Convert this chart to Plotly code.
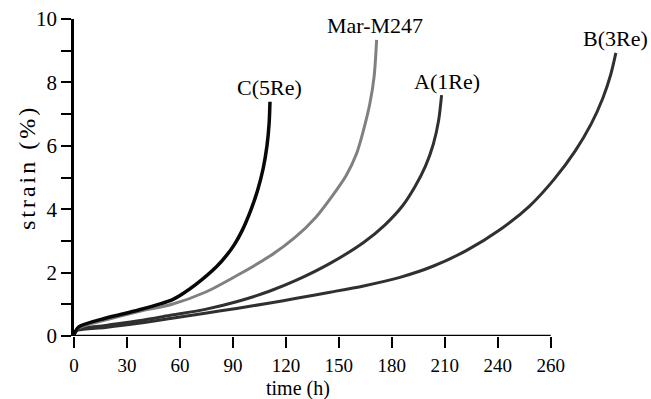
import plotly.graph_objects as go

# Tick labels (the last tick in the source figure is labelled "260")
X_TICK_VALUES = [0, 30, 60, 90, 120, 150, 180, 210, 240, 270]
X_TICK_LABELS = ["0", "30", "60", "90", "120", "150", "180", "210", "240", "260"]
Y_TICK_VALUES = [0, 2, 4, 6, 8, 10]

# Creep curves: time (h) and strain (%)
c5re_time = [0, 2.7, 17.7, 36.6, 55.5, 62, 68.7, 80.8, 86.5, 91, 95, 100, 104, 107.2, 109.3, 110.5, 111]
c5re_strain = [0.05, 0.29, 0.56, 0.82, 1.14, 1.35, 1.61, 2.19, 2.55, 2.9, 3.3, 3.95, 4.6, 5.3, 6.0, 6.7, 7.39]

mar_time = [0, 2.5, 17.7, 36.6, 55.5, 74.3, 92, 111, 125, 137, 146, 154, 160, 164, 167.6, 170, 171.4]
mar_strain = [0.05, 0.25, 0.5, 0.77, 1.0, 1.38, 1.9, 2.52, 3.1, 3.75, 4.4, 5.05, 5.75, 6.5, 7.34, 8.2, 9.34]

a1re_time = [0, 2, 17.7, 36.6, 55.5, 74.3, 92, 111, 126, 145, 164, 176, 186, 193, 199, 203.5, 206.5, 208.2]
a1re_strain = [0.05, 0.2, 0.33, 0.48, 0.66, 0.84, 1.08, 1.42, 1.76, 2.29, 2.95, 3.5, 4.1, 4.7, 5.35, 6.05, 6.8, 7.6]

b3re_time = [0, 2, 17.7, 36.6, 55.5, 74.3, 92, 111, 126, 145, 164, 184.6, 203.3, 222.4, 241.2, 258, 272, 284, 293, 299.5, 304, 306.9]
b3re_strain = [0.05, 0.18, 0.27, 0.40, 0.56, 0.72, 0.87, 1.04, 1.19, 1.38, 1.58, 1.85, 2.2, 2.7, 3.35, 4.1, 4.95, 5.85, 6.7, 7.5, 8.25, 8.93]

series = [
    ("B(3Re)", b3re_time, b3re_strain, "#303030", 3, 0),
    ("A(1Re)", a1re_time, a1re_strain, "#303030", 3, 5),
    ("Mar-M247", mar_time, mar_strain, "#808080", 3, -2),
    ("C(5Re)", c5re_time, c5re_strain, "#080808", 3.5, 0),
]

FONT = "Liberation Serif, Times New Roman, Times, serif"

fig = go.Figure()
for name, t, s, col, w, dx in series:
    fig.add_trace(go.Scatter(x=t, y=s, mode="lines", name=name,
                             line=dict(color=col, width=w, shape="spline", smoothing=0.8),
                             showlegend=False))
    fig.add_annotation(x=t[-1], y=s[-1], text=name, showarrow=False,
                       xanchor="center", yanchor="middle", yshift=14, xshift=dx,
                       font=dict(family=FONT, size=22, color="black"))

# x axis line only up to the last labelled tick
fig.add_shape(type="line", xref="x", yref="y", x0=0, x1=X_TICK_VALUES[-1], y0=0, y1=0,
              line=dict(color="black", width=2.5), layer="above")

fig.add_annotation(text="time (h)", xref="x", yref="paper", x=127, y=-0.165,
                   showarrow=False, xanchor="center", yanchor="middle",
                   font=dict(family=FONT, size=20, color="black"))
fig.add_annotation(text='<span style="letter-spacing:3px">strain (%)</span>',
                   xref="paper", yref="y", x=-0.083, y=5.3,
                   showarrow=False, textangle=-90, xanchor="center", yanchor="middle",
                   font=dict(family=FONT, size=24, color="black"))

fig.update_layout(
    width=651, height=399,
    margin=dict(l=74, r=12, t=19, b=63),
    paper_bgcolor="white", plot_bgcolor="white",
    font=dict(family=FONT, size=20, color="black"),
    xaxis=dict(range=[0, 320], tickvals=X_TICK_VALUES, ticktext=X_TICK_LABELS,
               showgrid=False, zeroline=False, showline=False, automargin=False,
               ticks="outside", ticklen=11, tickwidth=2, tickcolor="black",
               ticklabelstandoff=1,
               tickfont=dict(family=FONT, size=19, color="black")),
    yaxis=dict(range=[0, 10], tickvals=Y_TICK_VALUES, automargin=False,
               showgrid=False, zeroline=False, showline=True, linecolor="black", linewidth=2.5,
               ticks="outside", ticklen=10, tickwidth=2, tickcolor="black",
               tickfont=dict(family=FONT, size=21, color="black"),
               minor=dict(ticks="outside", ticklen=10, tickwidth=2, tickcolor="black", dtick=1, showgrid=False)),
)

fig.write_html("out.html", config={"displayModeBar": False},
               post_script="document.body.style.margin='0';")
